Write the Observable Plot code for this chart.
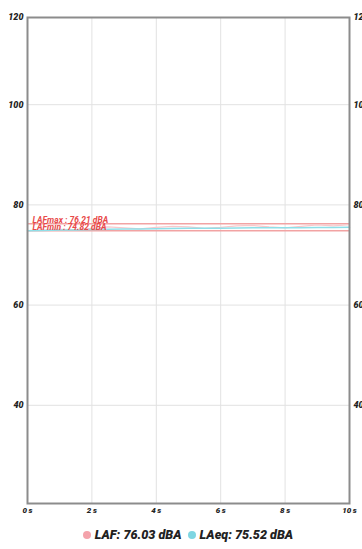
<!DOCTYPE html>
<html>
<head>
<meta charset="utf-8">
<script src="https://cdn.jsdelivr.net/npm/d3@7"></script>
<script src="https://cdn.jsdelivr.net/npm/@observablehq/plot@0.6"></script>
<style>
  html, body { margin: 0; padding: 0; background: #fff; }
  body { width: 362px; height: 549px; overflow: hidden; font-family: Roboto, sans-serif; }
  #legend { display: flex; justify-content: center; align-items: center; gap: 6px;
    font: italic 900 12.6px Roboto, sans-serif; color: #222; height: 29px; margin-left: 14px; }
  .item { display: flex; align-items: center; gap: 4px; }
  .dot { width: 8px; height: 8px; border-radius: 50%; display: inline-block; }
</style>
</head>
<body>
<div id="chart"></div>
<div id="legend"></div>
<script>
const times = [0, 0.5, 1, 1.5, 2, 2.5, 3, 3.5, 4, 4.5, 5, 5.5, 6, 6.5, 7, 7.5, 8, 8.5, 9, 9.5, 10];
const lafValues = [74.85, 74.95, 75.1, 75.05, 75.3, 75.6, 75.4, 75.2, 75.5, 75.7, 75.6, 75.3, 75.5, 75.8, 75.9, 75.6, 75.4, 75.7, 76.0, 75.8, 76.03];
const laeqValues = [74.85, 74.9, 74.98, 75.0, 75.07, 75.16, 75.2, 75.2, 75.24, 75.29, 75.32, 75.32, 75.34, 75.38, 75.42, 75.43, 75.43, 75.45, 75.49, 75.5, 75.52];
const xTicks = [0, 2, 4, 6, 8, 10];
const yTicks = [40, 60, 80, 100];
const yTopLabel = "120";
const lafMax = 76.21;
const lafMin = 74.82;
const lafCurrent = 76.03;
const laeqCurrent = 75.52;

const yDomain = [20.4, 117.4];
const lafData = times.map((t, i) => ({t, v: lafValues[i]}));
const laeqData = times.map((t, i) => ({t, v: laeqValues[i]}));
const refLines = [
  {v: lafMax, label: `LAFmax : ${lafMax.toFixed(2)} dBA`},
  {v: lafMin, label: `LAFmin : ${lafMin.toFixed(2)} dBA`}
];
const yAxisTicks = [...yTicks, yDomain[1]];
const yFmt = d => d === yDomain[1] ? yTopLabel : String(d);

const chart = Plot.plot({
  width: 362,
  height: 520,
  marginLeft: 27,
  marginRight: 13,
  marginTop: 17,
  marginBottom: 17,
  style: {fontFamily: "Roboto, sans-serif", fontStyle: "italic", fontWeight: "900", fontSize: "9px", color: "#222", overflow: "visible"},
  x: {domain: [0, 10], label: null},
  y: {domain: yDomain, label: null},
  marks: [
    Plot.gridX(xTicks.slice(1, -1), {stroke: "#e2e2e2", strokeOpacity: 1, strokeWidth: 1}),
    Plot.gridY(yTicks, {stroke: "#e2e2e2", strokeOpacity: 1, strokeWidth: 1}),
    Plot.ruleY(refLines, {y: "v", stroke: "#f2a3a3", strokeWidth: 1.5}),
    Plot.line(lafData, {x: "t", y: "v", stroke: "#f7c9cc", strokeWidth: 1.2}),
    Plot.line(laeqData, {x: "t", y: "v", stroke: "#8fdfe8", strokeWidth: 1.5}),
    Plot.text(refLines, {x: 0, y: "v", text: "label", textAnchor: "start", lineAnchor: "bottom", dx: 5, dy: -1,
      fill: "#e84a4a", fontSize: 8.5, fontStyle: "italic", fontWeight: "bold"}),
    Plot.axisX(xTicks, {tickSize: 0, tickPadding: 4, tickFormat: d => d + "\u2009s", fill: "#222", fontSize: 8, label: null}),
    Plot.axisY(yAxisTicks, {anchor: "left", tickSize: 0, tickPadding: 4, tickFormat: yFmt, fill: "#222", fontSize: 9, label: null}),
    Plot.axisY(yAxisTicks, {anchor: "right", tickSize: 0, tickPadding: 4, tickFormat: yFmt, fill: "#222", fontSize: 9, label: null}),
    Plot.frame({stroke: "#8c8c8c", strokeWidth: 2})
  ]
});
document.getElementById("chart").appendChild(chart);

const legend = document.getElementById("legend");
legend.innerHTML = `
  <span class="item"><span class="dot" style="background:#f4a3ab"></span>LAF: ${lafCurrent.toFixed(2)} dBA</span>
  <span class="item"><span class="dot" style="background:#7fd6e2"></span>LAeq: ${laeqCurrent.toFixed(2)} dBA</span>`;
</script>
</body>
</html>
